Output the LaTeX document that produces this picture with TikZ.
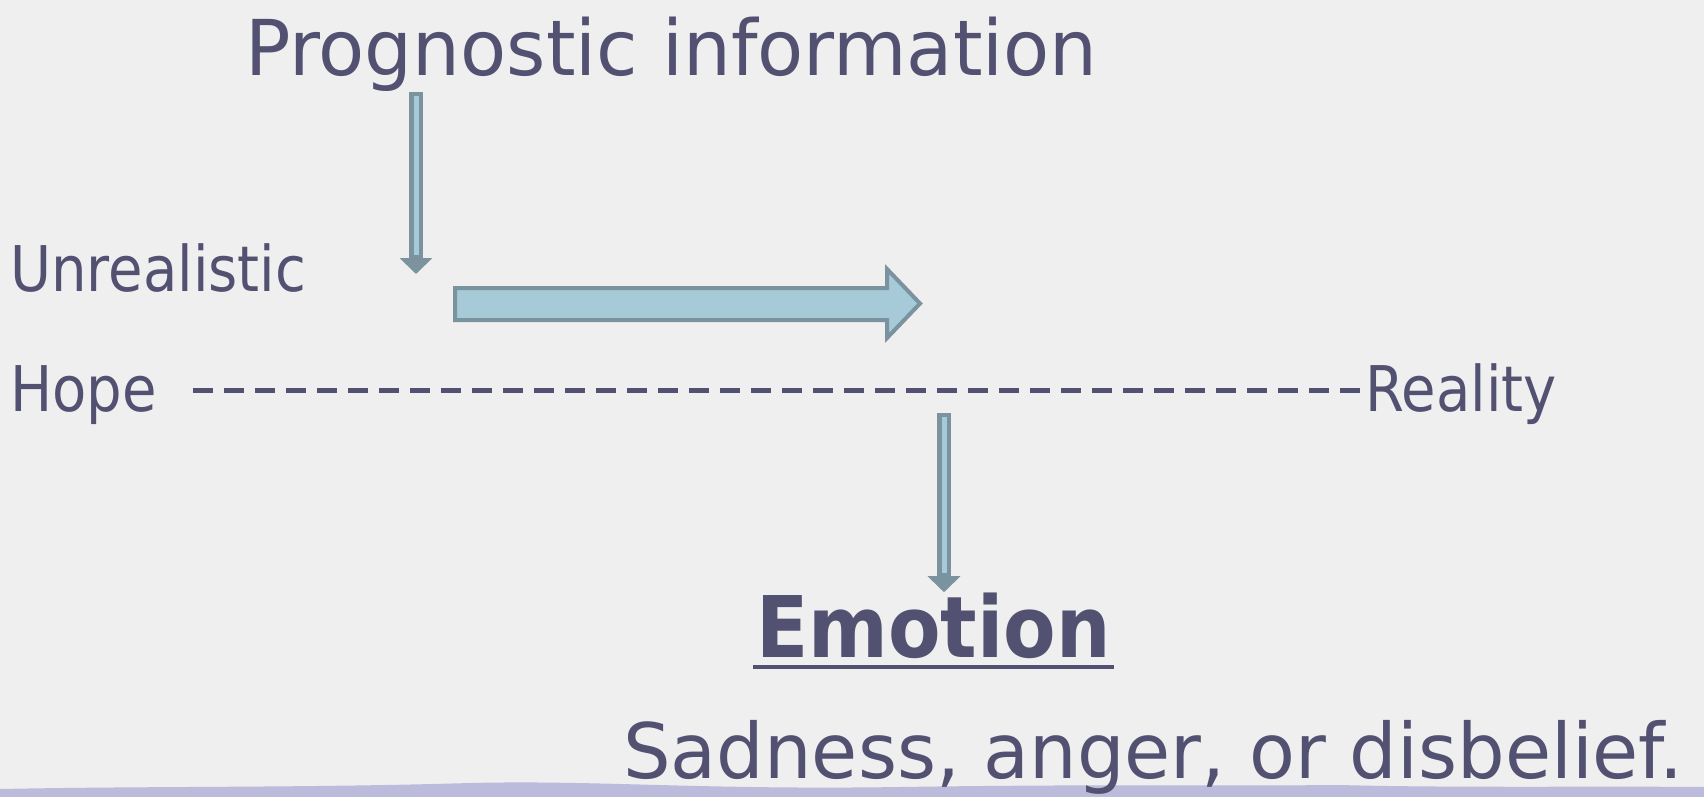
\documentclass[tikz,border=0pt]{standalone}
\usepackage{fontspec}
\setmainfont[FakeStretch=0.89]{DejaVu Sans}
\newfontfamily\titlefont[FakeStretch=0.98]{DejaVu Sans}
\newfontfamily\emofont[FakeStretch=0.9]{DejaVu Sans}
\usepackage{tikz}
\usetikzlibrary{arrows.meta}
\usetikzlibrary{positioning}

\definecolor{ink}{RGB}{82,81,114}
\definecolor{arrowfill}{RGB}{166,202,216}
\definecolor{arrowedge}{RGB}{122,147,158}
\definecolor{paper}{RGB}{239,239,239}
\definecolor{band}{RGB}{188,187,219}

\begin{document}
\begin{tikzpicture}[x=1pt, y=-1pt,
  txt/.style={inner sep=0pt, anchor=base west, text=ink},
  shaft/.style={draw=arrowedge, line width=14pt, -{Triangle[length=16pt,width=32pt]}},
  core/.style={draw=arrowfill, line width=5pt, shorten <=4pt, shorten >=19pt}]
  \useasboundingbox (0,0) rectangle (1704,797);
  \fill[paper] (0,0) rectangle (1704,797);

  % bottom band
  \fill[band] (0,797) -- (0,789) .. controls (150,786) and (300,788) .. (470,783)
    .. controls (600,780) and (700,790) .. (900,787)
    .. controls (1100,784) and (1250,786) .. (1340,785)
    .. controls (1450,788) and (1600,786) .. (1704,787) -- (1704,797) -- cycle;

  \node[txt, font=\titlefont\fontsize{77}{90}\selectfont] (title) at (245,76) {Prognostic information};
  \node[txt, font=\fontsize{63}{72}\selectfont] (unreal) at (10,291) {Unrealistic};
  \node[txt, font=\fontsize{63}{72}\selectfont] (hope) at (10,411) {Hope};
  \node[txt, font=\fontsize{63}{72}\selectfont] (reality) at (1365,411) {Reality};
  \node[txt, font=\emofont\bfseries\fontsize{85}{96}\selectfont] (emo) at (756,657) {Emotion};
  \node[txt, font=\titlefont\fontsize{76.5}{90}\selectfont] (sad) at (623,778) {Sadness, anger, or disbelief.};

  \coordinate (stop) at (416,274);
  \coordinate (drop) at (944,413);

  % thin arrows
  \draw[shaft] (title.south -| stop) -- (stop);
  \draw[core] (title.south -| stop) -- (stop);
  \draw[shaft] (drop) -- (emo.north -| drop);
  \draw[core] (drop) -- (emo.north -| drop);

  % big arrow
  \draw[fill=arrowfill, draw=arrowedge, line width=4pt, line join=miter]
    (455,288) -- (887,288) -- (887,269) -- (920,303.5) -- (887,338) -- (887,320) -- (455,320) -- cycle;

  % hope -- reality
  \draw[ink, line width=5pt, dash pattern=on 20pt off 11pt]
    ([xshift=36pt,yshift=21pt]hope.base east) -- ([xshift=-3pt,yshift=21pt]reality.base west);

  \draw[ink, line width=4pt] ([xshift=-3pt,yshift=-10pt]emo.base west) -- ([xshift=3pt,yshift=-10pt]emo.base east);
\end{tikzpicture}
\end{document}
